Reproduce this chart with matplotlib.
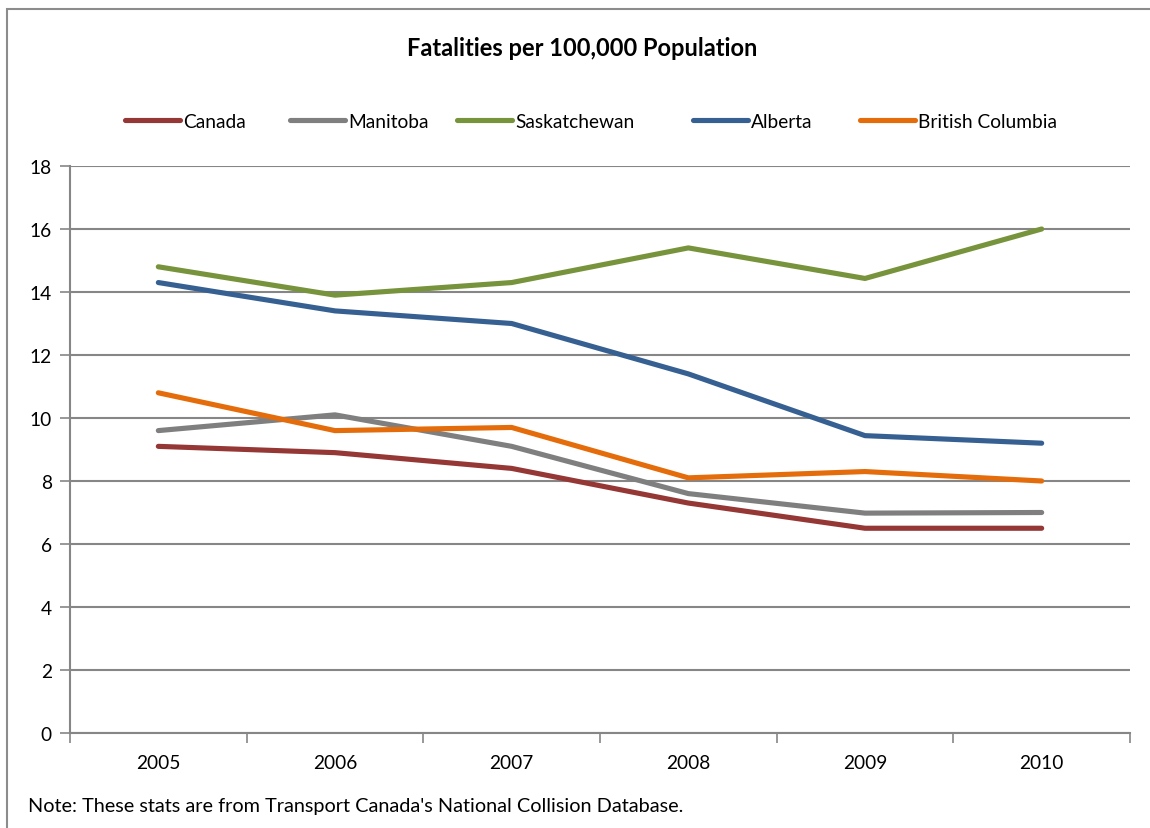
import matplotlib
matplotlib.use("Agg")
import matplotlib.pyplot as plt
from matplotlib.lines import Line2D
from matplotlib.patches import Rectangle

years = ["2005", "2006", "2007", "2008", "2009", "2010"]
canada = [9.1, 8.9, 8.4, 7.3, 6.5, 6.5]
manitoba = [9.6, 10.1, 9.1, 7.6, 6.98, 7.0]
saskatchewan = [14.8, 13.9, 14.3, 15.4, 14.43, 16.0]
alberta = [14.3, 13.4, 13.0, 11.4, 9.44, 9.2]
british_columbia = [10.8, 9.6, 9.7, 8.1, 8.3, 8.0]

series_names = ["Canada", "Manitoba", "Saskatchewan", "Alberta", "British Columbia"]
series_values = [canada, manitoba, saskatchewan, alberta, british_columbia]
colors = ["#953735", "#7F7F7F", "#77933C", "#376092", "#E46C0A"]

plt.rcParams["font.family"] = ["Lato", "DejaVu Sans"]
FS = 13.8

W, H = 1150, 829
fig = plt.figure(figsize=(W / 100, H / 100), dpi=100)
fig.patch.set_facecolor("white")

# chart frame
fig.add_artist(Rectangle((7 / W, -0.05), 1.2, 1 - 10 / H + 0.05,
                         transform=fig.transFigure, fill=False,
                         edgecolor="#8c8c8c", linewidth=1.5))

ax = fig.add_axes([70 / W, 1 - 734 / H, (1130 - 70) / W, (734 - 167) / H])
x = list(range(len(years)))
for name, vals, c in zip(series_names, series_values, colors):
    ax.plot(x, vals, color=c, linewidth=3.7, solid_capstyle="round",
            solid_joinstyle="round", zorder=3)

ax.set_xlim(-0.5, len(years) - 0.5)
ax.set_ylim(0, 18)
ax.set_yticks(range(0, 19, 2))
ax.set_yticklabels([str(v) for v in range(0, 19, 2)], fontsize=FS)
ax.set_xticks(x)
ax.set_xticklabels(years, fontsize=FS)
ax.set_xticks([i - 0.5 for i in range(len(years) + 1)], minor=True)
ax.tick_params(axis="x", which="major", length=0, pad=15)
ax.tick_params(axis="x", which="minor", length=7, width=1.2, color="#868686")
ax.tick_params(axis="y", length=7, width=1.2, color="#868686", pad=6)
ax.grid(axis="y", color="#868686", linewidth=1.5, zorder=1)
ax.set_axisbelow(True)
for s in ["top", "right"]:
    ax.spines[s].set_visible(False)
for s in ["left", "bottom"]:
    ax.spines[s].set_color("#868686")
    ax.spines[s].set_linewidth(1.5)

fig.text(582 / W, 1 - 48 / H, "Fatalities per 100,000 Population",
         ha="center", va="center", fontsize=17, fontweight="bold")

# legend row
leg_y = 1 - 121 / H
line_starts = [125, 290, 457, 693, 860]
for name, c, x0 in zip(series_names, colors, line_starts):
    fig.add_artist(Line2D([x0 / W, (x0 + 55) / W], [leg_y, leg_y],
                          transform=fig.transFigure, color=c, linewidth=3.7,
                          solid_capstyle="round"))
    fig.text((x0 + 58) / W, leg_y - 1.5 / H, name, ha="left", va="center",
             fontsize=FS)

fig.text(28 / W, 1 - 807 / H,
         "Note: These stats are from Transport Canada's National Collision Database.",
         ha="left", va="center", fontsize=14.3)

fig.savefig("out.png", dpi=100)
